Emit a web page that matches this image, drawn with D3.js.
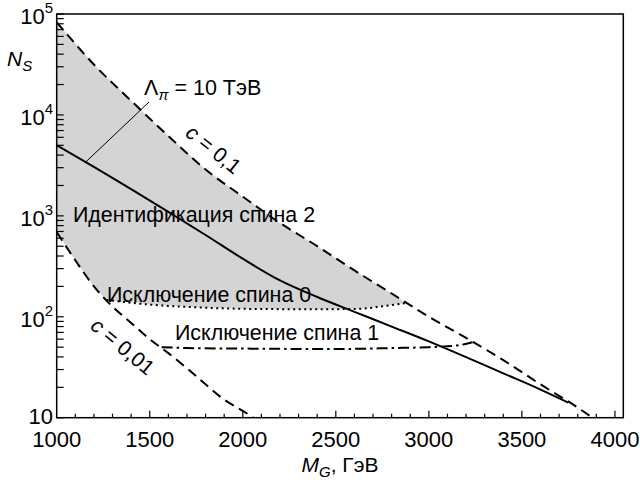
<!DOCTYPE html>
<html>
<head>
<meta charset="utf-8">
<script src="https://cdn.jsdelivr.net/npm/d3@7"></script>
<style>
  body { margin: 0; background: #fff; }
</style>
</head>
<body>
<div id="chart"></div>
<script>
// curves: [M_G (GeV), N_S]
const c01 = [[1000, 83000], [1200, 31600], [1400, 13800], [1600, 6170], [1800, 2880], [2000, 1550],
  [2200, 851], [2400, 501], [2600, 288], [2800, 170], [3000, 100], [3200, 61.7], [3400, 37.2],
  [3600, 21.4], [3800, 12.6], [3900, 9.4]];
const c001 = [[1000, 690], [1100, 363], [1200, 200], [1300, 126], [1400, 87], [1500, 60], [1600, 43.6],
  [1700, 30.9], [1800, 21.4], [1900, 15.1], [2000, 11.7], [2100, 8.9]];
const lambda10 = [[1000, 5000], [1200, 3055], [1400, 1840], [1600, 1096], [1800, 646], [2000, 376],
  [2200, 229], [2400, 157], [2600, 112], [2800, 80], [3000, 57], [3200, 39.8], [3400, 27.5],
  [3600, 19], [3750, 14.1]];
const spin0 = [[1268, 147], [1500, 132], [1750, 124], [2000, 120], [2250, 119], [2500, 119],
  [2630, 120], [2750, 127], [2880, 137]];
const spin1 = [[1564, 50], [1700, 49], [2000, 48.4], [2500, 47.9], [2800, 49], [3000, 50],
  [3150, 51.9], [3235, 56]];
const xTicks = [1000, 1500, 2000, 2500, 3000, 3500, 4000];
const yDecades = [10, 100, 1000, 10000, 100000];

const width = 640, height = 485;
const svg = d3.select("#chart").append("svg")
  .attr("width", width).attr("height", height)
  .attr("font-family", "'Liberation Sans', Arial, sans-serif");

const x = d3.scaleLinear().domain([1000, 4045]).range([56.7, 623.3]);
const y = d3.scaleLog().domain([10, 100000]).range([417.7, 14]);

svg.append("clipPath").attr("id", "clip")
  .append("rect").attr("x", x(1000)).attr("y", y(100000))
  .attr("width", x(4045) - x(1000)).attr("height", y(10) - y(100000));

const plot = svg.append("g").attr("clip-path", "url(#clip)");

const line = d3.line().x(d => x(d[0])).y(d => y(d[1])).curve(d3.curveMonotoneX);

// gray region: under c=0.1, above spin-0 exclusion and c=0.01
const region = [
  ...c01.filter(d => d[0] < 2880),
  ...spin0.slice().reverse(),
  ...c001.filter(d => d[0] < 1268).reverse()
];
plot.append("path")
  .attr("d", d3.line().x(d => x(d[0])).y(d => y(d[1]))(region) + "Z")
  .attr("fill", "#d4d4d4");

plot.append("path").attr("d", line(c01))
  .attr("fill", "none").attr("stroke", "#000").attr("stroke-width", 2).attr("stroke-dasharray", "10,6");
plot.append("path").attr("d", line(c001))
  .attr("fill", "none").attr("stroke", "#000").attr("stroke-width", 2).attr("stroke-dasharray", "10,6");
plot.append("path").attr("d", line(lambda10))
  .attr("fill", "none").attr("stroke", "#000").attr("stroke-width", 2);
plot.append("path").attr("d", line(spin0))
  .attr("fill", "none").attr("stroke", "#000").attr("stroke-width", 2).attr("stroke-dasharray", "2,3.5");
plot.append("path").attr("d", line(spin1))
  .attr("fill", "none").attr("stroke", "#000").attr("stroke-width", 2).attr("stroke-dasharray", "11,4,2.5,4");

// frame
svg.append("rect")
  .attr("x", x(1000)).attr("y", y(100000))
  .attr("width", x(4045) - x(1000)).attr("height", y(10) - y(100000))
  .attr("fill", "none").attr("stroke", "#000").attr("stroke-width", 1.5);

// bottom ticks (inward)
const xMinor = d3.range(1100, 4001, 100);
svg.append("g").selectAll("line").data(xMinor).join("line")
  .attr("x1", d => x(d)).attr("x2", d => x(d))
  .attr("y1", y(10)).attr("y2", d => y(10) - (d % 500 === 0 ? 7 : 4))
  .attr("stroke", "#000").attr("stroke-width", 1.2);
svg.append("g").selectAll("text").data(xTicks).join("text")
  .attr("x", d => x(d)).attr("y", 447)
  .attr("text-anchor", "middle").attr("font-size", 22)
  .text(d => d);

// left ticks (inward)
const yMinor = [];
yDecades.forEach(d => { for (let k = 1; k < 10; k++) if (d * k <= 100000) yMinor.push(d * k); });
svg.append("g").selectAll("line").data(yMinor).join("line")
  .attr("x1", x(1000)).attr("x2", x(1000) + 7)
  .attr("y1", d => y(d)).attr("y2", d => y(d))
  .attr("stroke", "#000").attr("stroke-width", 1.2);

const yLab = svg.append("g").selectAll("text").data(yDecades).join("text")
  .attr("x", 53).attr("text-anchor", "end").attr("font-size", 22)
  .attr("y", d => d === 10 ? y(d) + 6 : y(d) + 10);
yLab.append("tspan").text("10");
yLab.filter(d => d > 10).append("tspan")
  .attr("dy", -11).attr("font-size", 15)
  .text(d => Math.round(Math.log10(d)));

// axis titles
const yt = svg.append("text").attr("x", 7).attr("y", 66).attr("font-size", 21);
yt.append("tspan").attr("font-style", "italic").text("N");
yt.append("tspan").attr("font-style", "italic").attr("font-size", 15).attr("dy", 5).text("S");

const xt = svg.append("text").attr("x", 340).attr("y", 472)
  .attr("text-anchor", "middle").attr("font-size", 21);
xt.append("tspan").attr("font-style", "italic").text("M");
xt.append("tspan").attr("font-style", "italic").attr("font-size", 15).attr("dy", 5).text("G");
xt.append("tspan").attr("dy", -5).text(", ГэВ");

// annotations
const lam = svg.append("text").attr("x", 144).attr("y", 95).attr("font-size", 21.5);
lam.append("tspan").text("Λ");
lam.append("tspan").attr("font-style", "italic").attr("font-size", 15).attr("dy", 5).text("π");
lam.append("tspan").attr("dy", -5).text(" = 10 ТэВ");
svg.append("line")
  .attr("x1", 149).attr("y1", 102)
  .attr("x2", x(1158)).attr("y2", y(3440))
  .attr("stroke", "#000").attr("stroke-width", 1);

svg.append("g").attr("font-size", 21.4)
  .call(g => {
    g.append("text").attr("x", 73).attr("y", 222).text("Идентификация спина 2");
    g.append("text").attr("x", 107).attr("y", 302).text("Исключение спина 0");
    g.append("text").attr("x", 175).attr("y", 340).text("Исключение спина 1");
  });

const cA = svg.append("text").attr("font-size", 21).attr("text-anchor", "middle")
  .attr("transform", "translate(209,155) rotate(39)");
cA.append("tspan").attr("font-style", "italic").text("c");
cA.append("tspan").text(" = 0,1");

const cB = svg.append("text").attr("font-size", 21).attr("text-anchor", "middle")
  .attr("transform", "translate(118,352) rotate(40)");
cB.append("tspan").attr("font-style", "italic").text("c");
cB.append("tspan").text(" = 0,01");
</script>
</body>
</html>
